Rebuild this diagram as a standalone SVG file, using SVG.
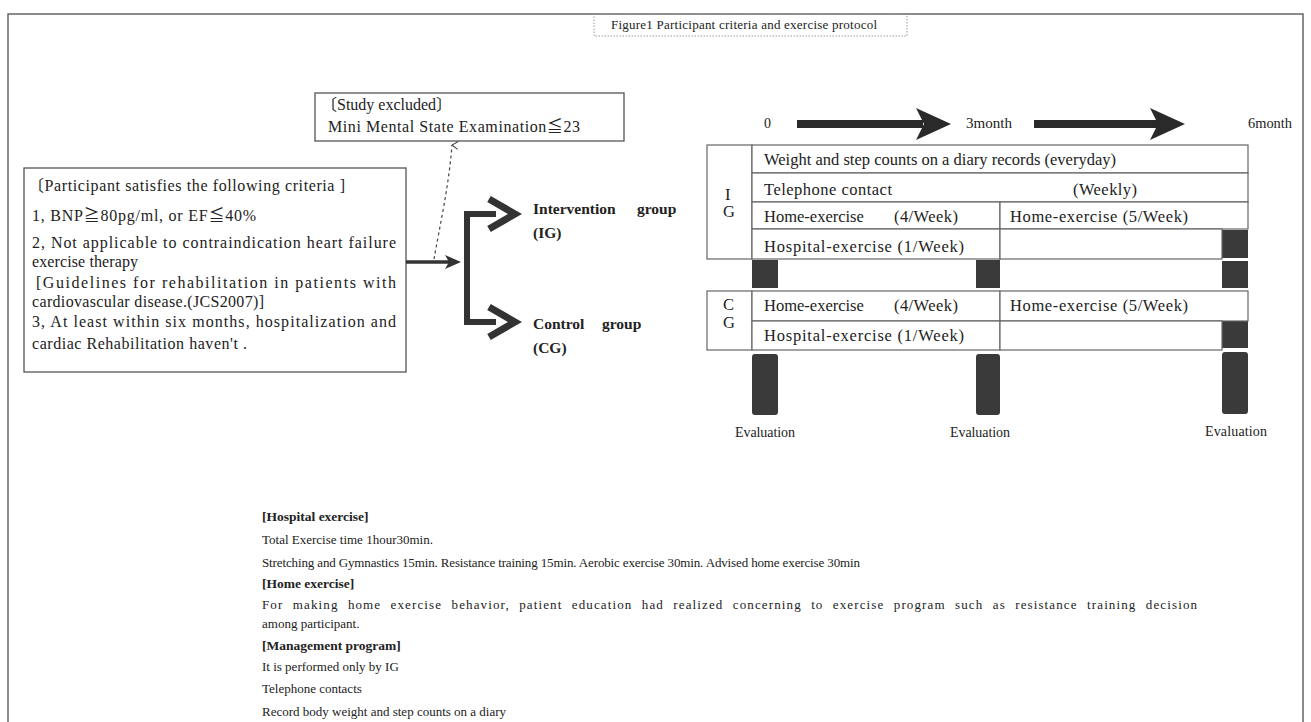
<svg xmlns="http://www.w3.org/2000/svg" width="1311" height="722" viewBox="0 0 1311 722">
<defs>
<style>
.t{font-family:"Liberation Serif","Times New Roman",serif;font-size:13px;fill:#222}
.c{font-family:"Liberation Serif","Noto Sans CJK JP","Times New Roman",serif;font-size:16px;fill:#222}
.m{font-family:"Liberation Serif","Times New Roman",serif;font-size:16.5px;fill:#222}
.e{font-family:"Liberation Serif","Times New Roman",serif;font-size:14px;fill:#222}
.tb{font-family:"Liberation Serif","Times New Roman",serif;font-size:13.5px;fill:#222;font-weight:bold}
.g{font-family:"Liberation Serif","Times New Roman",serif;font-size:15.5px;fill:#222;font-weight:bold}
.box{fill:#fff;stroke:#555;stroke-width:1.3}
.cell{fill:#fff;stroke:#666;stroke-width:1.2}
.bar{fill:#3a3a3a}
.arr{fill:#2a2a2a}
</style>
<marker id="open" markerWidth="10" markerHeight="10" refX="5" refY="1" orient="auto" markerUnits="userSpaceOnUse">
<path d="M1,7 L5,1 L9,7" fill="none" stroke="#444" stroke-width="1"/>
</marker>
</defs>
<rect width="1311" height="722" fill="#fff"/>
<rect x="8" y="14" width="1295" height="720" fill="none" stroke="#666" stroke-width="1.5"/>

<g id="title">
<rect x="594" y="14" width="313" height="22" fill="none" stroke="#999" stroke-width="1" stroke-dasharray="1.5 1.5"/>
<text class="t" x="611" y="29" font-size="12px" textLength="266" lengthAdjust="spacing">Figure1  Participant  criteria  and  exercise  protocol</text>
</g>

<g id="excluded">
<rect class="box" x="315" y="93" width="309" height="48"/>
<text class="c" x="321" y="110">〔Study excluded〕</text>
<text class="c" x="328" y="132" textLength="252" lengthAdjust="spacing">Mini  Mental  State  Examination≦23</text>
</g>

<g id="criteria">
<rect class="box" x="24" y="168" width="382" height="204"/>
<text class="c" x="28" y="191" textLength="317" lengthAdjust="spacing">〔Participant  satisfies  the following  criteria ]</text>
<text class="c" x="32" y="221" textLength="224" lengthAdjust="spacing">1, BNP≧80pg/ml,  or EF≦40%</text>
<text class="c" x="32" y="248" textLength="364" lengthAdjust="spacing">2, Not applicable to contraindication heart failure</text>
<text class="c" x="32" y="267" textLength="106" lengthAdjust="spacing">exercise therapy</text>
<text class="c" x="36" y="288" textLength="360" lengthAdjust="spacing">[Guidelines for rehabilitation in patients with</text>
<text class="c" x="32" y="307" textLength="232" lengthAdjust="spacing">cardiovascular  disease.(JCS2007)]</text>
<text class="c" x="32" y="327" textLength="364" lengthAdjust="spacing">3, At least within six months, hospitalization and</text>
<text class="c" x="32" y="349" textLength="215" lengthAdjust="spacing">cardiac Rehabilitation  haven't  .</text>
</g>

<g id="connectors">
<line x1="406" y1="262" x2="450" y2="262" stroke="#333" stroke-width="3.5"/>
<polygon points="445,255 461,262 445,269 449,262" fill="#333"/>
<path d="M434,259 C440,225 449,185 452,145" fill="none" stroke="#444" stroke-width="1.2" stroke-dasharray="3 3" marker-end="url(#open)"/>
<path d="M496,214 L467,214 L467,322 L496,322" fill="none" stroke="#333" stroke-width="6"/>
<polyline points="489,199 515,214 489,229" fill="none" stroke="#333" stroke-width="7" stroke-linejoin="miter"/>
<polyline points="489,307 515,322 489,337" fill="none" stroke="#333" stroke-width="7" stroke-linejoin="miter"/>
</g>

<g id="ig-label">
<text class="g" x="533" y="214">Intervention</text>
<text class="g" x="637" y="214">group</text>
<text class="g" x="533" y="238">(IG)</text>
</g>
<g id="cg-label">
<text class="g" x="533" y="329">Control</text>
<text class="g" x="602" y="329">group</text>
<text class="g" x="533" y="353">(CG)</text>
</g>

<g id="timeline">
<text class="e" x="764" y="128">0</text>
<rect x="797" y="120" width="126" height="8" class="arr"/>
<polygon points="916,108 951,124 916,140 924,124" class="arr"/>
<text class="e" x="966" y="128" textLength="46" lengthAdjust="spacingAndGlyphs">3month</text>
<rect x="1034" y="120" width="124" height="8" class="arr"/>
<polygon points="1150,108 1185,124 1150,140 1158,124" class="arr"/>
<text class="e" x="1248" y="128" textLength="44" lengthAdjust="spacingAndGlyphs">6month</text>
</g>

<g id="bars">
<rect class="bar" x="752" y="260" width="26" height="28"/>
<rect class="bar" x="976" y="260" width="24" height="28"/>
<rect class="bar" x="1222" y="230" width="26" height="28"/>
<rect class="bar" x="1222" y="261" width="26" height="27"/>
<rect class="bar" x="1222" y="321" width="26" height="27"/>
<rect class="bar" x="752" y="354" width="26" height="61" rx="3"/>
<rect class="bar" x="976" y="354" width="24" height="61" rx="3"/>
<rect class="bar" x="1222" y="352" width="26" height="62" rx="3"/>
</g>

<g id="ig-table">
<rect class="cell" x="707" y="145" width="45" height="114"/>
<text class="m" x="725" y="200">I</text>
<text class="m" x="723" y="217">G</text>
<rect class="cell" x="752" y="145" width="496" height="28"/>
<text class="m" x="764" y="165" textLength="352" lengthAdjust="spacing">Weight  and step  counts  on a diary  records  (everyday)</text>
<rect class="cell" x="752" y="173" width="496" height="29"/>
<text class="m" x="764" y="195" textLength="128" lengthAdjust="spacing">Telephone  contact</text>
<text class="m" x="1073" y="195" textLength="64" lengthAdjust="spacing">(Weekly)</text>
<rect class="cell" x="752" y="202" width="248" height="27"/>
<text class="m" x="764" y="222">Home-exercise</text>
<text class="m" x="894" y="222" textLength="64" lengthAdjust="spacing">(4/Week)</text>
<rect class="cell" x="1000" y="202" width="248" height="27"/>
<text class="m" x="1010" y="222" textLength="178" lengthAdjust="spacing">Home-exercise  (5/Week)</text>
<rect class="cell" x="752" y="229" width="248" height="30"/>
<text class="m" x="764" y="252" textLength="200" lengthAdjust="spacing">Hospital-exercise  (1/Week)</text>
<rect class="cell" x="1000" y="229" width="222" height="30"/>
</g>

<g id="cg-table">
<rect class="cell" x="707" y="291" width="45" height="59"/>
<text class="m" x="723" y="310">C</text>
<text class="m" x="723" y="328">G</text>
<rect class="cell" x="752" y="291" width="248" height="30"/>
<text class="m" x="764" y="311">Home-exercise</text>
<text class="m" x="894" y="311" textLength="64" lengthAdjust="spacing">(4/Week)</text>
<rect class="cell" x="1000" y="291" width="248" height="30"/>
<text class="m" x="1010" y="311" textLength="178" lengthAdjust="spacing">Home-exercise  (5/Week)</text>
<rect class="cell" x="752" y="321" width="248" height="29"/>
<text class="m" x="764" y="341" textLength="200" lengthAdjust="spacing">Hospital-exercise  (1/Week)</text>
<rect class="cell" x="1000" y="321" width="222" height="29"/>
</g>

<g id="evaluation">
<text class="e" x="735" y="437" textLength="60" lengthAdjust="spacing">Evaluation</text>
<text class="e" x="950" y="437" textLength="60" lengthAdjust="spacing">Evaluation</text>
<text class="e" x="1205" y="436" textLength="62" lengthAdjust="spacing">Evaluation</text>
</g>

<g id="notes">
<text class="tb" x="262" y="521">[Hospital exercise]</text>
<text class="t" x="262" y="544">Total Exercise  time  1hour30min.</text>
<text class="t" x="262" y="567" textLength="598" lengthAdjust="spacing">Stretching and Gymnastics 15min. Resistance training 15min. Aerobic exercise 30min. Advised home exercise 30min</text>
<text class="tb" x="262" y="588">[Home exercise]</text>
<text class="t" x="262" y="609" font-size="13.5px" word-spacing="5" textLength="935" lengthAdjust="spacing">For making home exercise behavior, patient education had realized concerning to exercise program such as resistance training decision</text>
<text class="t" x="262" y="628">among  participant.</text>
<text class="tb" x="262" y="650">[Management program]</text>
<text class="t" x="262" y="671">It is performed  only  by IG</text>
<text class="t" x="262" y="693">Telephone  contacts</text>
<text class="t" x="262" y="716">Record body weight  and step counts on a diary</text>
</g>
</svg>
